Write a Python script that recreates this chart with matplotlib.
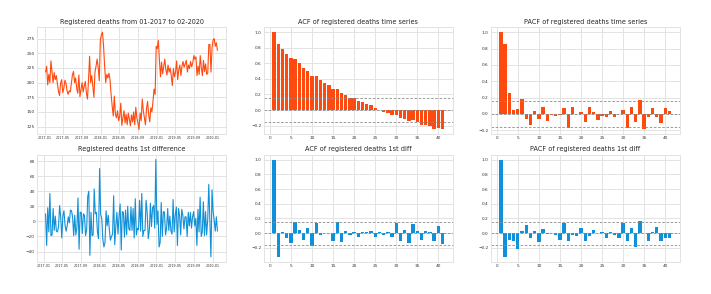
import numpy as np
import pandas as pd
import matplotlib
matplotlib.use('Agg')
import matplotlib.pyplot as plt

# weekly registered deaths (01-2017 .. 02-2020)
deaths = [218, 228, 196, 214, 200, 237, 218, 200, 217, 205,
          212, 199, 185, 178, 199, 205, 183, 190, 204, 199,
          186, 180, 186, 184, 199, 213, 219, 200, 208, 190,
          182, 213, 176, 188, 200, 184, 194, 202, 183, 172,
          205, 245, 200, 212, 193, 175, 218, 228, 240, 226,
          203, 273, 282, 286, 262, 228, 200, 214, 208, 216,
          205, 180, 160, 143, 177, 146, 140, 152, 135, 142,
          165, 127, 140, 152, 131, 146, 128, 148, 138, 126,
          145, 133, 150, 128, 158, 140, 131, 120, 148, 135,
          172, 152, 140, 128, 156, 168, 145, 133, 157, 150,
          168, 189, 180, 262, 258, 272, 238, 210, 235, 215,
          228, 240, 222, 213, 230, 218, 225, 212, 195, 224,
          210, 218, 237, 205, 222, 230, 212, 228, 236, 226,
          232, 238, 218, 230, 224, 236, 227, 233, 246, 240,
          244, 212, 228, 214, 246, 226, 212, 238, 219, 232,
          214, 216, 265, 265, 218, 260, 273, 275, 262, 268,
          255]

acf_series = [1.0, 0.85, 0.78, 0.72, 0.67, 0.66, 0.60, 0.54, 0.50, 0.44,
              0.44, 0.39, 0.35, 0.32, 0.27, 0.27, 0.22, 0.19, 0.16, 0.15,
              0.12, 0.10, 0.08, 0.06, 0.02, 0.00, -0.02, -0.04, -0.06, -0.06,
              -0.10, -0.12, -0.14, -0.13, -0.15, -0.19, -0.19, -0.21, -0.24, -0.23,
              -0.25]
pacf_series = [1.0, 0.85, 0.26, 0.05, 0.06, 0.18, -0.06, -0.14, 0.03, -0.06,
               0.09, -0.09, -0.01, -0.02, -0.01, 0.07, -0.17, 0.08, 0.00, 0.02,
               -0.10, 0.09, 0.02, -0.08, -0.03, -0.04, 0.04, -0.04, 0.00, 0.05,
               -0.17, 0.08, -0.10, 0.17, -0.19, -0.04, 0.07, -0.04, -0.11, 0.07,
               0.04]
acf_diff = [1.0, -0.32, 0.01, -0.06, -0.13, 0.15, 0.05, -0.09, 0.07, -0.17,
            0.14, -0.02, 0.00, 0.00, -0.10, 0.15, -0.12, 0.03, -0.02, 0.01,
            -0.05, 0.02, 0.01, 0.03, -0.05, 0.01, -0.03, 0.02, -0.05, 0.14,
            -0.11, 0.05, -0.13, 0.12, 0.03, -0.09, 0.03, 0.01, -0.10, 0.10,
            -0.14]
pacf_diff = [1.0, -0.32, -0.09, -0.10, -0.21, 0.03, 0.11, -0.06, 0.03, -0.12,
             0.06, -0.01, 0.00, -0.02, -0.09, 0.14, -0.11, -0.03, -0.04, 0.07,
             -0.11, -0.04, 0.05, 0.00, 0.01, -0.07, 0.01, -0.03, -0.07, 0.14,
             -0.11, 0.07, -0.19, 0.16, 0.00, -0.10, 0.01, 0.08, -0.10, -0.07,
             -0.07]

series_ticks = [125, 150, 175, 200, 225, 250, 275]
diff_ticks = [-40, -20, 0, 20, 40, 60, 80]
corr_ticks = [-0.2, 0.0, 0.2, 0.4, 0.6, 0.8, 1.0]
lag_ticks = [0, 5, 10, 15, 20, 25, 30, 35, 40]

ORANGE = '#ff4a0f'
BLUE = '#1090d8'


def corr_plot(ax, vals, color, title, n):
    lags = np.arange(1, len(vals) + 1)
    ax.bar(lags, vals, width=0.8, color=color)
    conf = 1.96 / np.sqrt(n)
    for y in (conf, 0, -conf):
        ax.axhline(y, color='#8a8a8a', ls='--', lw=0.6, dashes=(3, 2))
    ax.set_yticks(corr_ticks)
    ax.set_xticks(lag_ticks)
    ax.set_title(title)


def data_plot():
    plt.style.use('seaborn-v0_8-whitegrid')
    plt.rcParams['font.family'] = ['DejaVu Sans']
    plt.rcParams['axes.titlesize'] = 4.7
    plt.rcParams['axes.titlepad'] = 2.5
    plt.rcParams['axes.titlecolor'] = '#262626'
    plt.rcParams['grid.color'] = '#e3e3e3'
    plt.rcParams['grid.linewidth'] = 0.7
    plt.rcParams['axes.edgecolor'] = '#e3e3e3'
    plt.rcParams['axes.linewidth'] = 0.7

    fig, axes = plt.subplots(2, 3, figsize=(7.11, 2.94), dpi=100)
    plt.subplots_adjust(left=0.052, right=0.956, bottom=0.11, top=0.907,
                        wspace=0.2, hspace=0.19)

    weeks = pd.date_range('2017-01-06', periods=len(deaths), freq='W-FRI')
    values = np.array(deaths, dtype=float)
    diff = np.diff(values)

    ax = axes[0, 0]
    ax.plot(weeks, values, color=ORANGE, lw=0.8)
    ax.set_yticks(series_ticks)
    ax.set_title('Registered deaths from 01-2017 to 02-2020')

    ax = axes[1, 0]
    ax.plot(weeks[1:], diff, color=BLUE, lw=0.8)
    ax.set_yticks(diff_ticks)
    ax.set_title('Registered deaths 1st difference')

    corr_plot(axes[0, 1], acf_series, ORANGE, 'ACF of registered deaths time series', len(values))
    corr_plot(axes[0, 2], pacf_series, ORANGE, 'PACF of registered deaths time series', len(values))
    corr_plot(axes[1, 1], acf_diff, BLUE, 'ACF of registered deaths 1st diff', len(diff))
    corr_plot(axes[1, 2], pacf_diff, BLUE, 'PACF of registered deaths 1st diff', len(diff))

    for ax in axes.flat:
        ax.tick_params(length=0, pad=1.5, labelsize=3.1, colors='#333333')
    for ax in axes[:, 0]:
        ax.tick_params(axis='x', labelsize=2.4)

    fig.savefig('out.png', dpi=100)
    return axes


if __name__ == '__main__':
    data_plot()
